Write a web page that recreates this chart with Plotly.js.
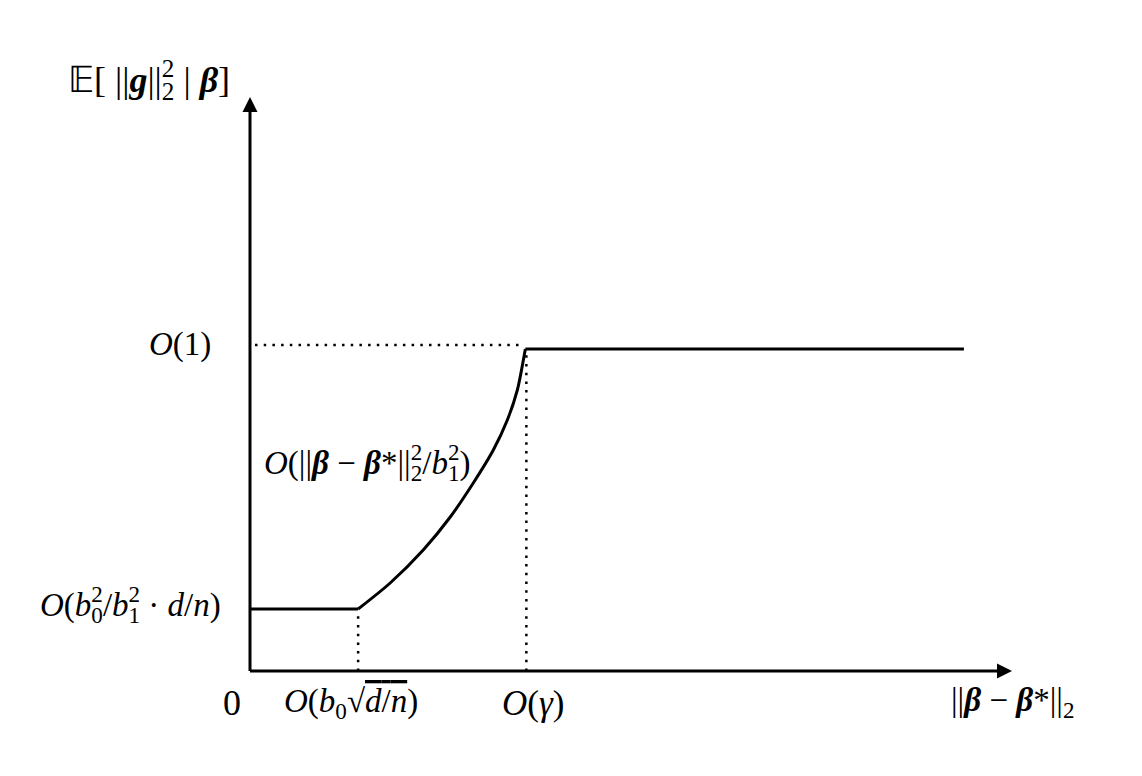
<!DOCTYPE html>
<html>
<head>
<meta charset="utf-8">
<script src="https://cdn.plot.ly/plotly-3.0.1.min.js"></script>
<style>
html,body{margin:0;padding:0;background:#fff;}
#chart{width:1142px;height:776px;}
</style>
</head>
<body>
<div id="chart"></div>
<script>
// ---- data (schematic units) ----
const xLow  = [0, 1.08];
const yLow  = [0.62, 0.62];
const xRise = [1.08, 1.40, 1.73, 2.00, 2.23, 2.43, 2.57, 2.67, 2.73, 2.75];
const yRise = [0.62, 0.88, 1.21, 1.54, 1.88, 2.21, 2.51, 2.81, 3.11, 3.22];
const xHigh = [2.75, 7.13];
const yHigh = [3.22, 3.22];
const xGuideTop = [0.05, 2.72];
const yGuideTop = [3.26, 3.26];
const xGuideA = [1.08, 1.08];
const yGuideA = [0, 0.60];
const xGuideB = [2.76, 2.76];
const yGuideB = [0, 3.19];
const axisEndX = 7.61;
const axisEndY = 5.74;

// stacked superscript/subscript helper (sup pulled back over the sub)
const SS = (sup, sub) => '<sup style="letter-spacing:-0.5em">' + sup + '</sup><sub>' + sub + '</sub>';

const yAxisLabel = "𝔼[ ||<b><i>g</i></b>||" + SS("2", "2") + " | <b><i>β</i></b>]";
const xAxisLabel = "||<b><i>β</i></b> − <b><i>β</i></b>*||<sub>2</sub>";
const yTickLabels = ["<i>O</i>(<i>b</i>" + SS("2", "0") + "/<i>b</i>" + SS("2", "1") + " · <i>d</i>/<i>n</i>)", "<i>O</i>(1)"];
const xTickLabels = ["0", "<i>O</i>(<i>b</i><sub>0</sub>√<span style=\"text-decoration:overline\"><i>d</i>/<i>n</i></span>)", "<i>O</i>(<i>γ</i>)"];
const curveLabel = "<i>O</i>(||<b><i>β</i></b> − <b><i>β</i></b>*||" + SS("2", "2") + "/<i>b</i>" + SS("2", "1") + ")";

const FONT = "Liberation Serif, Times New Roman, serif";
const solid = {color: "#000", width: 3};
const dotted = {color: "#000", width: 2.5, dash: "2.5px,6.2px"};

const traces = [
  {x: xGuideTop, y: yGuideTop, mode: "lines", line: dotted, hoverinfo: "skip"},
  {x: xGuideA, y: yGuideA, mode: "lines", line: dotted, hoverinfo: "skip"},
  {x: xGuideB, y: yGuideB, mode: "lines", line: dotted, hoverinfo: "skip"},
  {x: xLow, y: yLow, mode: "lines", line: solid, hoverinfo: "skip"},
  {x: xRise, y: yRise, mode: "lines", line: Object.assign({shape: "spline", smoothing: 0.8}, solid), hoverinfo: "skip"},
  {x: xHigh, y: yHigh, mode: "lines", line: solid, hoverinfo: "skip"}
];

// plot area in pixels: left 250, top 97, width 762, height 574
const PL = 250, PT = 97, PW = 762, PH = 574;
function lab(text, px, py, xanchor, size) {
  return {text: text, x: (px - PL) / PW, y: (PT + PH - py) / PH, xref: "paper", yref: "paper",
          showarrow: false, xanchor: xanchor || "center", yanchor: "middle",
          font: {family: FONT, size: size || 33, color: "#000"}};
}

const annotations = [
  // axes with arrowheads
  {x: axisEndX, y: 0, ax: -0.015, ay: 0, xref: "x", yref: "y", axref: "x", ayref: "y",
   showarrow: true, arrowhead: 2, arrowsize: 1, arrowwidth: 3, arrowcolor: "#000", text: "", standoff: 0},
  {x: 0, y: axisEndY, ax: 0, ay: -0.015, xref: "x", yref: "y", axref: "x", ayref: "y",
   showarrow: true, arrowhead: 2, arrowsize: 1, arrowwidth: 3, arrowcolor: "#000", text: "", standoff: 0},
  lab(yAxisLabel, 149, 83, "center", 36),
  lab(yTickLabels[1], 213, 344, "right"),
  lab(yTickLabels[0], 223, 607, "right"),
  lab(xTickLabels[0], 232, 703, "center", 36),
  lab(xTickLabels[1], 351, 703),
  lab(xTickLabels[2], 533, 703, "center", 35),
  lab(xAxisLabel, 1012, 702),
  lab(curveLabel, 262, 466, "left")
];

const layout = {
  width: 1142, height: 776,
  margin: {l: PL, r: 1142 - PL - PW, t: PT, b: 776 - PT - PH},
  paper_bgcolor: "#fff", plot_bgcolor: "#fff",
  showlegend: false,
  xaxis: {range: [0, axisEndX], visible: false, fixedrange: true},
  yaxis: {range: [0, axisEndY], visible: false, fixedrange: true},
  annotations: annotations
};

Plotly.newPlot("chart", traces, layout, {displayModeBar: false, staticPlot: true});
</script>
</body>
</html>
